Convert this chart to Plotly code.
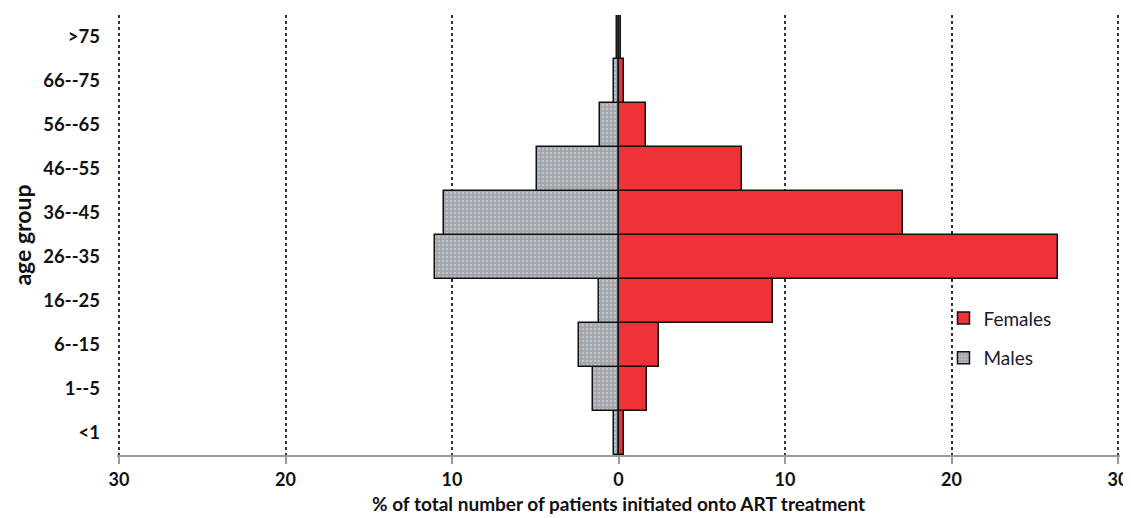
import plotly.graph_objects as go

age_groups = ["<1", "1--5", "6--15", "16--25", "26--35", "36--45", "46--55", "56--65", "66--75", ">75"]
females = [0.3, 1.7, 2.45, 9.3, 26.4, 17.1, 7.4, 1.65, 0.3, 0.15]
males = [0.3, 1.55, 2.4, 1.2, 11.0, 10.5, 4.9, 1.1, 0.3, 0.1]
tick_vals = [-30, -20, -10, 0, 10, 20, 30]
tick_text = ["30", "20", "10", "0", "10", "20", "30"]
x_title = "% of total number of patients initiated onto ART treatment"
y_title = "age group"

FONT = "Lato"

fig = go.Figure()
fig.add_trace(go.Bar(
    y=age_groups, x=[-v for v in males], orientation="h", name="Males",
    marker=dict(color="#a0a4aa", line=dict(color="#111111", width=1.5),
                pattern=dict(shape=".", fgcolor="#dfe1e5", size=4, solidity=0.35)),
    legend="legend2",
))
fig.add_trace(go.Bar(
    y=age_groups, x=females, orientation="h", name="Females",
    marker=dict(color="#ee3338", line=dict(color="#111111", width=1.5)),
    legend="legend",
))

fig.update_layout(
    width=1123, height=510,
    margin=dict(l=109, r=11, t=7, b=63, autoexpand=False),
    paper_bgcolor="white", plot_bgcolor="white",
    barmode="relative", bargap=0,
    font=dict(family=FONT, size=15, color="#111111"),
    legend=dict(x=0.824, y=0.354, xanchor="left", yanchor="top",
                bgcolor="rgba(0,0,0,0)", font=dict(family=FONT, size=19, color="#1a1a2e"),
                itemwidth=30),
    legend2=dict(x=0.824, y=0.264, xanchor="left", yanchor="top",
                 bgcolor="rgba(0,0,0,0)", font=dict(family=FONT, size=19, color="#1a1a2e"),
                 itemwidth=30),
    showlegend=True,
    annotations=[dict(text=x_title, xref="paper", yref="paper", x=0.5, y=0,
                      xanchor="center", yanchor="top", yshift=-35, showarrow=False,
                      font=dict(family=FONT, size=19, weight="bold", color="#111111"))],
)
fig.update_xaxes(
    range=[-30.12, 30.12], tickvals=tick_vals, ticktext=tick_text, automargin=False,
    showgrid=True, gridcolor="#333333", griddash="dot", gridwidth=1.5,
    zeroline=False, showline=True, linecolor="#9a9a9a", linewidth=2,
    ticks="outside", tickcolor="#9a9a9a", ticklen=7, tickwidth=1.5,
    tickfont=dict(family=FONT, size=18, weight="bold"),
)
fig.update_yaxes(
    range=[-0.5, 9.5], showgrid=False, zeroline=False, showline=False, ticks="",
    automargin=False,
    tickfont=dict(family=FONT, size=18.5, weight="bold"), ticklabelstandoff=16,
    title=dict(text=y_title, font=dict(family=FONT, size=23, weight="bold"), standoff=12),
)

fig.write_html("out.html")
